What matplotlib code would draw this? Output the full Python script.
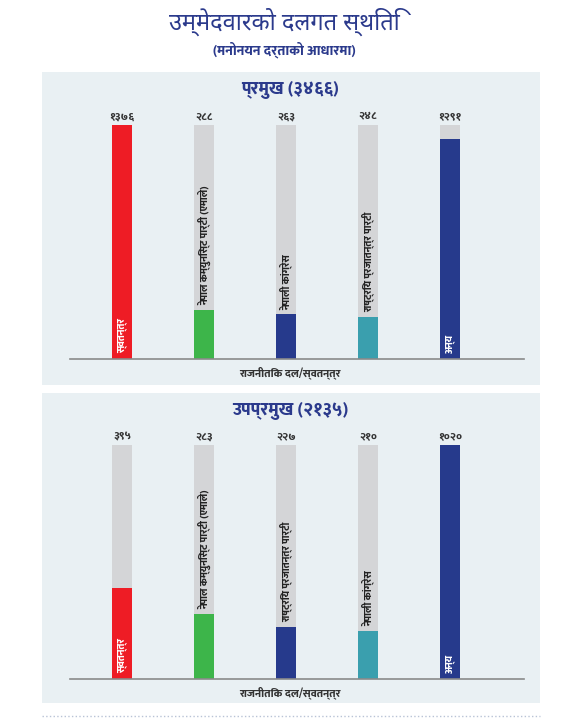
import matplotlib
matplotlib.use("Agg")
import matplotlib.pyplot as plt
from matplotlib.patches import Rectangle
from matplotlib.lines import Line2D

FONT = ["Noto Sans Devanagari", "Mukta", "DejaVu Sans"]
BOLD = ["Mukta", "Noto Sans Devanagari", "DejaVu Sans"]
plt.rcParams["font.family"] = FONT

title = "उम्मेदवारको दलगत स्थिति"
subtitle = "(मनोनयन दर्ताको आधारमा)"
xlabel = "राजनीतिक दल/स्वतन्त्र"

# प्रमुख
top_title = "प्रमुख (३४६६)"
top_parties = ["स्वतन्त्र", "नेपाल कम्युनिस्ट पार्टी (एमाले)", "नेपाली कांग्रेस",
               "राष्ट्रिय प्रजातन्त्र पार्टी", "अन्य"]
top_values = [1376, 288, 263, 248, 1291]
top_labels = ["१३७६", "२८८", "२६३", "२४८", "१२९१"]

# उपप्रमुख
bot_title = "उपप्रमुख (२१३५)"
bot_parties = ["स्वतन्त्र", "नेपाल कम्युनिस्ट पार्टी (एमाले)", "राष्ट्रिय प्रजातन्त्र पार्टी",
               "नेपाली कांग्रेस", "अन्य"]
bot_values = [395, 283, 227, 210, 1020]
bot_labels = ["३९५", "२८३", "२२७", "२१०", "१०२०"]

# these two get their names written inside the coloured bar
inside = ["स्वतन्त्र", "अन्य"]

bar_colors = ["#ee1c25", "#3db54a", "#263a8c", "#3a9fae", "#263a8c"]
navy = "#2b3a8c"
panel_bg = "#e9f0f3"
gray_bar = "#d4d5d7"

W, H = 569, 720
fig = plt.figure(figsize=(W / 100, H / 100), dpi=100)
fig.patch.set_facecolor("white")


def fy(y):
    return 1 - y / H


def fx(x):
    return x / W


fig.text(0.5, fy(22), title, ha="center", va="center", fontsize=17, color=navy)
fig.text(0.5, fy(50), subtitle, ha="center", va="center", fontsize=10,
         color=navy, fontweight="heavy", family=BOLD)


def panel(y0, y1, ttl, parties, values, labels, bar_top, bar_bot):
    fig.patches.append(Rectangle((fx(42), fy(y1)), fx(540) - fx(42), fy(y0) - fy(y1),
                                 transform=fig.transFigure, facecolor=panel_bg,
                                 edgecolor="none", zorder=-5))
    fig.text(fx(290), fy(y0 + 18), ttl, ha="center", va="center", fontsize=13,
             color=navy, fontweight="heavy", family=BOLD)

    ax = fig.add_axes([fx(70), fy(bar_bot), fx(524) - fx(70), fy(bar_top) - fy(bar_bot)])
    ax.set_facecolor("none")
    vmax = max(values)
    x = range(len(values))
    ax.bar(x, [vmax] * len(values), width=0.25, color=gray_bar, zorder=1)
    ax.bar(x, values, width=0.25, color=bar_colors, zorder=2)
    ax.set_xlim(-0.634, 4.9)
    ax.set_ylim(0, vmax)
    for s in ["top", "left", "right"]:
        ax.spines[s].set_visible(False)
    ax.spines["bottom"].set_color("#8a8a8a")
    ax.spines["bottom"].set_linewidth(1.2)
    ax.set_xticks([])
    ax.set_yticks([])

    for i, (v, lab, name) in enumerate(zip(values, labels, parties)):
        ax.text(i, vmax * 1.012, lab, ha="center", va="bottom", fontsize=8,
                fontweight="heavy", family=BOLD, color="#333333")
        if name in inside:
            ax.text(i, vmax * 0.025, name, ha="center", va="bottom", rotation=90,
                    fontsize=7.5, fontweight="heavy", family=BOLD, color="white", zorder=3)
        else:
            ax.text(i, v + vmax * 0.02, name, ha="center", va="bottom", rotation=90,
                    fontsize=7.5, fontweight="heavy", family=BOLD, color="#222222", zorder=3)

    fig.text(fx(290), fy(bar_bot + 14), xlabel, ha="center", va="center",
             fontsize=8, fontweight="heavy", family=BOLD, color="#333333")


panel(72, 385, top_title, top_parties, top_values, top_labels, 125, 359)
panel(393, 703, bot_title, bot_parties, bot_values, bot_labels, 445, 679)

fig.lines.append(Line2D([fx(42), fx(540)], [fy(716), fy(716)], transform=fig.transFigure,
                        color="#b9c3d6", linestyle=":", linewidth=1))

fig.savefig("out.png", dpi=100, facecolor="white")
